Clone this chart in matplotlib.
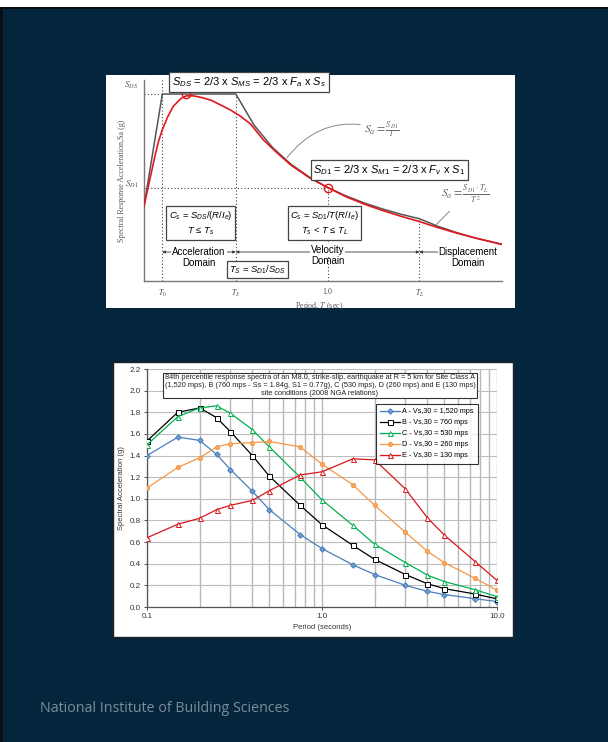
import matplotlib
matplotlib.use("Agg")
import matplotlib.pyplot as plt
from matplotlib.patches import Rectangle
from matplotlib.ticker import FixedLocator, NullFormatter, FormatStrFormatter

W, H = 608, 742
NAVY = "#03263d"

plt.rcParams["font.family"] = ["Liberation Sans", "DejaVu Sans"]
plt.rcParams["mathtext.fontset"] = "custom"
plt.rcParams["mathtext.rm"] = "Liberation Sans"
plt.rcParams["mathtext.it"] = "Liberation Sans:italic"

# ---- top panel: design spectrum (schematic) ----
T0, TS, TL = 0.1, 0.5, 1.5
SDS, SD1 = 1.0, 0.5
design_T = [0.0, 0.1, 0.5, 0.6, 0.7, 0.8, 0.9, 1.0, 1.1, 1.2, 1.3, 1.4, 1.5,
            1.6, 1.7, 1.8, 1.95]
design_Sa = [0.40, 1.00, 1.00, 0.833, 0.714, 0.625, 0.556, 0.50, 0.455, 0.417,
             0.385, 0.357, 0.333, 0.293, 0.26, 0.231, 0.197]
site_T = [0.0, 0.02, 0.04, 0.06, 0.08, 0.10, 0.13, 0.16, 0.20, 0.23, 0.27,
          0.32, 0.37, 0.42, 0.47, 0.52, 0.58, 0.65, 0.72, 0.80, 0.90, 1.0,
          1.1, 1.2, 1.3, 1.4, 1.5, 1.6, 1.7, 1.8, 1.95]
site_Sa = [0.40, 0.49, 0.58, 0.67, 0.75, 0.81, 0.88, 0.935, 0.975, 0.99, 0.99,
           0.98, 0.965, 0.94, 0.915, 0.885, 0.84, 0.755, 0.69, 0.62, 0.553,
           0.50, 0.451, 0.411, 0.377, 0.346, 0.318, 0.286, 0.257, 0.231, 0.195]

# ---- bottom panel: 84th percentile spectra ----
periods = [0.1, 0.15, 0.2, 0.25, 0.3, 0.4, 0.5, 0.75, 1.0, 1.5, 2.0, 3.0,
           4.0, 5.0, 7.5, 10.0]
sa_A = [1.40, 1.57, 1.54, 1.41, 1.27, 1.07, 0.90, 0.67, 0.54, 0.39, 0.30,
        0.20, 0.145, 0.115, 0.077, 0.05]
sa_B = [1.535, 1.80, 1.84, 1.75, 1.62, 1.40, 1.21, 0.94, 0.76, 0.57, 0.44,
        0.30, 0.215, 0.17, 0.12, 0.075]
sa_C = [1.50, 1.76, 1.84, 1.86, 1.79, 1.64, 1.48, 1.20, 0.99, 0.755, 0.58,
        0.41, 0.295, 0.235, 0.16, 0.095]
sa_D = [1.10, 1.29, 1.38, 1.48, 1.51, 1.52, 1.53, 1.48, 1.32, 1.13, 0.94,
        0.69, 0.515, 0.41, 0.265, 0.155]
sa_E = [0.64, 0.765, 0.82, 0.90, 0.94, 0.985, 1.075, 1.22, 1.25, 1.37, 1.36,
        1.09, 0.825, 0.665, 0.42, 0.245]
site_labels = ["A - Vs,30 = 1,520 mps", "B - Vs,30 = 760 mps",
               "C - Vs,30 = 530 mps", "D - Vs,30 = 260 mps",
               "E - Vs,30 = 130 mps"]


def frac(x, y, w, h):
    # pixel box (top-left origin) -> figure fraction
    return [x / W, 1 - (y + h) / H, w / W, h / H]


def panel(x, y, w, h, fc, ec="none", lw=0):
    r = frac(x, y, w, h)
    fig.patches.append(Rectangle((r[0], r[1]), r[2], r[3], transform=fig.transFigure,
                                 facecolor=fc, edgecolor=ec, lw=lw, zorder=-10))


fig = plt.figure(figsize=(W / 100, H / 100), dpi=100, facecolor=NAVY)

# slide frame + white panels
panel(0, 0, W, 7, "white")
panel(0, 7, W, 2, "#0a0f14")
panel(0, 7, 3, H, "#0a0f14")
panel(106, 75, 409, 233, "white")
panel(113, 362, 400, 275, "white", ec="#222222", lw=1)

# ================= top chart =================
ax = fig.add_axes(frac(144, 80, 358, 201))
ax.set_facecolor("none")
ax.set_xlim(0, 1.95)
ax.set_ylim(0, 1.075)
for s in ["top", "right"]:
    ax.spines[s].set_visible(False)
for s in ["left", "bottom"]:
    ax.spines[s].set_color("#777777")
    ax.spines[s].set_linewidth(1.0)

ax.plot(design_T, design_Sa, color="#555555", lw=1.1, zorder=3)
ax.plot(site_T, site_Sa, color="#e0181e", lw=1.2, zorder=4)
ax.plot([0.23, 1.0], [SDS, SD1], "o", ms=6, mfc="none", mec="#e0181e",
        mew=1.0, zorder=5)

dot = dict(color="#444444", lw=0.8, ls=(0, (1, 2)), zorder=2)
ax.plot([T0, T0], [0, 1.075], **dot)
ax.plot([TS, TS], [0, SDS], **dot)
ax.plot([1.0, 1.0], [0, SD1], **dot)
ax.plot([TL, TL], [0, 0.333], **dot)
ax.plot([0, T0], [SDS, SDS], **dot)
ax.plot([0, 1.0], [SD1, SD1], **dot)

ax.set_xticks([T0, TS, 1.0, TL])
ax.set_xticklabels([r"$T_0$", r"$T_S$", "1.0", r"$T_L$"])
for lbl in ax.get_xticklabels():
    lbl.set_fontfamily("Liberation Serif")
    lbl.set_math_fontfamily("stix")
    lbl.set_fontsize(5.8)
    lbl.set_color("#555555")
ax.tick_params(axis="x", length=0, pad=5)
ax.set_yticks([])
ax.text(-0.03, 1.045, r"$S_{DS}$", ha="right", va="center", fontsize=6.5,
        color="#555555", math_fontfamily="stix")
ax.text(-0.03, 0.515, r"$S_{D1}$", ha="right", va="center", fontsize=6.5,
        color="#555555", math_fontfamily="stix")
ax.set_ylabel("Spectral Response Acceleration,Sa (g)", fontfamily="Liberation Serif",
              fontsize=5.8, color="#555555", labelpad=13)
ax.set_xlabel(r"Period, $T$ (sec)", fontfamily="Liberation Serif", fontsize=5.8,
              color="#555555", math_fontfamily="stix")
ax.xaxis.set_label_coords(0.49, -0.095)

box = dict(boxstyle="square,pad=0.25", fc="white", ec="#444444", lw=0.9)
ax.text(0.572, 1.064, r"$S_{DS}$ = 2/3 x $S_{MS}$ = 2/3 x $F_a$ x $S_s$",
        ha="center", va="center", fontsize=8, bbox=box, zorder=6, clip_on=False)
ax.text(1.337, 0.594, r"$S_{D1}$ = 2/3 x $S_{M1}$ = 2/3 x $F_v$ x $S_1$",
        ha="center", va="center", fontsize=8, bbox=box, zorder=6)
ax.text(0.307, 0.31, "$C_s$ = $S_{DS}$/($R$/$I_e$)\n$T$ ≤ $T_s$",
        ha="center", va="center", fontsize=6.8, bbox=box, zorder=6,
        linespacing=1.5)
ax.text(0.984, 0.31, "$C_s$ = $S_{D1}$/$T$($R$/$I_e$)\n$T_s$ < $T$ ≤ $T_L$",
        ha="center", va="center", fontsize=6.8, bbox=box, zorder=6,
        linespacing=1.5)
ax.text(0.617, 0.062, r"$T_S$ = $S_{D1}$/$S_{DS}$", ha="center", va="center",
        fontsize=6.8, bbox=box, zorder=6)

# domain arrows
ya = 0.155
arr = dict(arrowstyle="<|-|>", mutation_scale=4, lw=0.6, color="#333333",
           shrinkA=0, shrinkB=0)
ax.annotate("", xy=(TS, ya), xytext=(T0, ya), arrowprops=arr, zorder=3)
ax.annotate("", xy=(TL, ya), xytext=(TS, ya), arrowprops=arr, zorder=3)
ax.annotate("", xy=(TL, ya), xytext=(1.62, ya),
            arrowprops=dict(arr, arrowstyle="-|>"), zorder=3)
wb = dict(boxstyle="square,pad=0.1", fc="white", ec="none")
ax.text(0.30, ya, "Acceleration", ha="center", va="center", fontsize=7,
        bbox=wb, zorder=4)
ax.text(0.30, 0.096, "Domain", ha="center", va="center", fontsize=7, zorder=4)
ax.text(1.0, 0.168, "Velocity", ha="center", va="center", fontsize=7,
        bbox=wb, zorder=4)
ax.text(1.0, 0.105, "Domain", ha="center", va="center", fontsize=7, zorder=4)
ax.text(1.765, ya, "Displacement", ha="center", va="center", fontsize=7,
        bbox=wb, zorder=4)
ax.text(1.765, 0.096, "Domain", ha="center", va="center", fontsize=7, zorder=4)

# formula callouts
ax.annotate(r"$S_a = \frac{S_{D1}}{T}$", xy=(0.777, 0.658), xytext=(1.20, 0.81),
            fontsize=8.5, color="#666666", math_fontfamily="stix", va="center",
            arrowprops=dict(arrowstyle="-", color="#888888", lw=0.7,
                            shrinkA=1, shrinkB=0,
                            connectionstyle="arc3,rad=0.35"))
ax.annotate(r"$S_a = \frac{S_{D1}\cdot T_L}{T^2}$", xy=(1.59, 0.30),
            xytext=(1.62, 0.46), fontsize=8.5, color="#666666",
            math_fontfamily="stix", va="center",
            arrowprops=dict(arrowstyle="-", color="#888888", lw=0.7,
                            shrinkA=2, shrinkB=0))

# ================= bottom chart =================
bx = fig.add_axes(frac(147, 369, 350, 238))
bx.set_facecolor("none")
bx.set_xscale("log")
bx.set_xlim(0.1, 10)
bx.set_ylim(0, 2.2)
bx.set_yticks([i * 0.2 for i in range(12)])
bx.yaxis.set_major_formatter(FormatStrFormatter("%.1f"))
bx.set_xticks([0.1, 1.0, 10.0])
bx.set_xticklabels(["0.1", "1.0", "10.0"])
minor = [m * d for d in (0.1, 1.0) for m in range(2, 10)]
bx.xaxis.set_minor_locator(FixedLocator(minor))
bx.xaxis.set_minor_formatter(NullFormatter())
bx.grid(True, axis="y", color="#bdbdbd", lw=0.8)
bx.grid(True, axis="x", which="both", color="#b8b8b8", lw=1.0)
bx.set_axisbelow(True)
for s in ["top", "right"]:
    bx.spines[s].set_visible(False)
for s in ["left", "bottom"]:
    bx.spines[s].set_color("#555555")
    bx.spines[s].set_linewidth(0.9)
bx.tick_params(axis="both", which="major", labelsize=5.8, length=2.5, width=0.6,
               colors="#333333", pad=2)
bx.tick_params(axis="x", which="minor", length=0)
bx.set_ylabel("Spectral Acceleration (g)", fontsize=5.5, color="#333333", labelpad=3)
bx.set_xlabel("Period (seconds)", fontsize=5.5, color="#333333", labelpad=3)

styles = [
    (sa_A, "#4a7ebb", "D", "#6f9bd4", 2.8),
    (sa_B, "#000000", "s", "white", 3.6),
    (sa_C, "#00b050", "^", "white", 3.6),
    (sa_D, "#f79646", "o", "#f9a865", 3.0),
    (sa_E, "#d9151b", "^", "white", 3.6),
]
for (vals, col, mk, fc, ms), lab in zip(styles, site_labels):
    bx.plot(periods, vals, color=col, lw=0.9, marker=mk, ms=ms, mfc=fc,
            mec=col, mew=0.7, label=lab, zorder=3)

leg = bx.legend(loc="upper right", bbox_to_anchor=(0.946, 0.853), fontsize=5.2,
                frameon=True, fancybox=False, edgecolor="black",
                borderpad=0.6, labelspacing=0.55, handlelength=2.8,
                handletextpad=0.3, borderaxespad=0)
leg.get_frame().set_linewidth(0.8)

bx.text(0.494, 0.931,
        "84th percentile response spectra of an M8.0, strike-slip, earthquake at R = 5 km for Site Class A\n"
        "(1,520 mps), B (760 mps - Ss = 1.84g, S1 = 0.77g), C (530 mps), D (260 mps) and E (130 mps)\n"
        "site conditions (2008 NGA relations)",
        transform=bx.transAxes, ha="center", va="center", fontsize=5.3,
        color="#222222", linespacing=1.15,
        bbox=dict(boxstyle="square,pad=0.2", fc="white", ec="#333333", lw=0.8),
        zorder=6)

# footer
fig.text(40 / W, 1 - 708 / H, "National Institute of Building Sciences",
         fontfamily="Open Sans", fontsize=10.3, color="#7d8c99", va="center")

fig.savefig("out.png", dpi=100, facecolor=NAVY)
